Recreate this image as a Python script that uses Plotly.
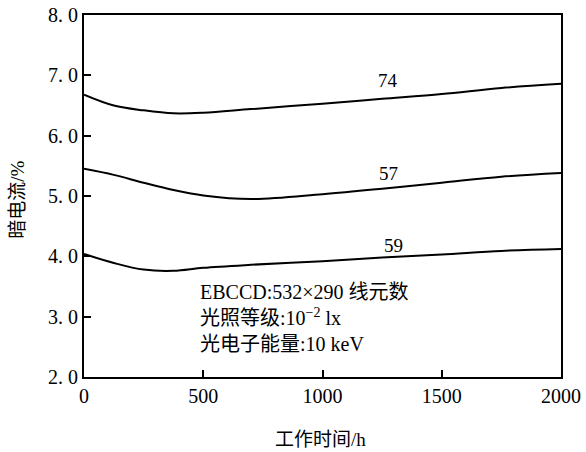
import plotly.graph_objects as go

hours = [0, 125, 250, 375, 500, 700, 1000, 1250, 1500, 1750, 2000]
curve_74 = [6.68, 6.50, 6.42, 6.37, 6.38, 6.44, 6.53, 6.61, 6.69, 6.79, 6.86]
curve_57 = [5.45, 5.35, 5.22, 5.10, 5.01, 4.95, 5.03, 5.12, 5.22, 5.32, 5.38]
curve_59 = [4.04, 3.89, 3.78, 3.76, 3.81, 3.86, 3.92, 3.98, 4.03, 4.09, 4.12]
curve_names = ["74", "57", "59"]
label_x = [1275, 1275, 1296]
label_y = [6.92, 5.38, 4.18]

x_ticks = [0, 500, 1000, 1500, 2000]
x_ticktext = ["0", "500", "1000", "1500", "2000"]
y_ticks = [2, 3, 4, 5, 6, 7, 8]
y_ticktext = ["2. 0", "3. 0", "4. 0", "5. 0", "6. 0", "7. 0", "8. 0"]

info_lines = ["EBCCD:532×290 线元数", "光照等级:10<sup>−2</sup> lx", "光电子能量:10 keV"]

FONT = "Liberation Serif, Noto Sans CJK SC, serif"

fig = go.Figure()
for ys in (curve_74, curve_57, curve_59):
    fig.add_trace(go.Scatter(x=hours, y=ys, mode="lines",
                             line=dict(color="black", width=2, shape="spline", smoothing=1.0),
                             showlegend=False, hoverinfo="skip"))

for name, lx, ly in zip(curve_names, label_x, label_y):
    fig.add_annotation(x=lx, y=ly, text=name, showarrow=False,
                       font=dict(family=FONT, size=19, color="black"))

fig.add_annotation(x=480, y=2.97, xref="x", yref="y", xanchor="left", yanchor="middle",
                   align="left", showarrow=False,
                   text="<br>".join(info_lines),
                   font=dict(family=FONT, size=20, color="black"))

fig.add_annotation(xref="paper", yref="paper", x=0.495, y=-0.174, yanchor="middle",
                   text="工作时间/h", showarrow=False,
                   font=dict(family=FONT, size=19, color="black"))
fig.add_annotation(xref="paper", yref="paper", x=-0.14, y=0.49, xanchor="center",
                   yanchor="middle", text="暗电流/%", textangle=-90, showarrow=False,
                   font=dict(family=FONT, size=19, color="black"))

axis_common = dict(showline=True, linecolor="black", linewidth=2, mirror=True,
                   ticks="inside", ticklen=7, tickwidth=1.5, tickcolor="black",
                   showgrid=False, zeroline=False, automargin=False,
                   tickfont=dict(family=FONT, size=20, color="black"))

fig.update_xaxes(range=[0, 2000], tickvals=x_ticks, ticktext=x_ticktext, **axis_common)
fig.update_yaxes(range=[2, 8], tickvals=y_ticks, ticktext=y_ticktext, **axis_common)

fig.update_layout(width=586, height=452,
                  margin=dict(l=84, r=25, t=15, b=75),
                  plot_bgcolor="white", paper_bgcolor="white",
                  font=dict(family=FONT, color="black"))

fig.write_html("out.html", config={"displayModeBar": False},
               post_script="document.body.style.margin='0';")
